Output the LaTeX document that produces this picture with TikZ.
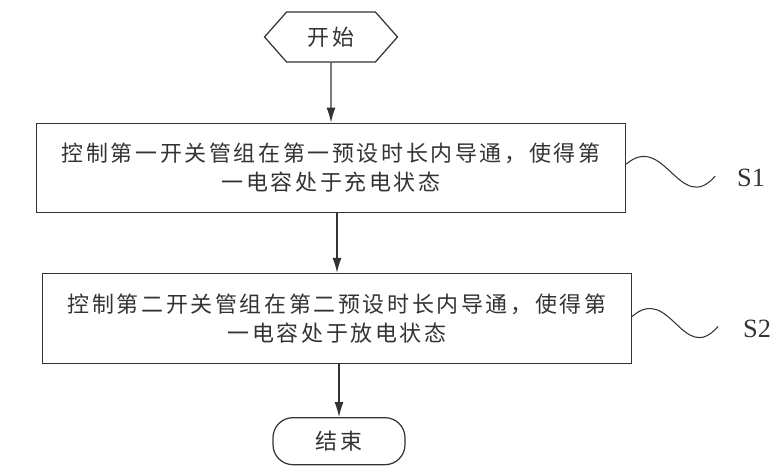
\documentclass[tikz,border=0pt]{standalone}
\usepackage{fontspec}
\setmainfont{Liberation Serif}
\newfontfamily\cjk[LetterSpace=12]{Noto Sans CJK SC}
\usetikzlibrary{positioning,arrows.meta,shapes.symbols}

\begin{document}
\begin{tikzpicture}[node distance={1.2cm}, line width=0.7pt, color=black!80,
        >={Latex[length=3mm,width=1.8mm]},
        font=\cjk\fontsize{12.5pt}{16.5pt}\selectfont,
        startbox/.style = {draw, signal, signal to=west and east, signal pointer angle=97, minimum width=2.66cm, minimum height=1cm},
        stepbox/.style = {draw, align=center, minimum width=11.78cm, minimum height=1.78cm},
        stopbox/.style = {draw, rounded corners=0.4cm, minimum width=2.64cm, minimum height=0.94cm},
        wave/.style = {line width=0.6pt},
        slabel/.style = {font=\fontsize{15pt}{18pt}\selectfont}]
        \useasboundingbox (0,0) rectangle (15.56,-9.48);
        \node[startbox] (start) at (6.62,-0.74) {开始};
        \node[stepbox] (s1) [below=of start] {控制第一开关管组在第一预设时长内导通，使得第\\一电容处于充电状态};
        \node[stepbox, minimum height=1.8cm] (s2) [below=of s1, xshift=0.12cm] {控制第二开关管组在第二预设时长内导通，使得第\\一电容处于放电状态};
        \node[stopbox] (stop) [below=1.06cm of s2, xshift=0.04cm] {结束};
        \draw[->] (start) -- (s1);
        \draw[->] (s1.south -| s2) -- (s2);
        \draw[->] (s2.south -| stop) -- (stop);
        % step labels
        \coordinate (w1) at ([xshift=1.78cm, yshift=-0.17cm]s1.east);
        \coordinate (w2) at ([xshift=1.72cm, yshift=-0.16cm]s2.east);
        \node[slabel] (l1) at ([xshift=2.5cm, yshift=-0.21cm]s1.east) {S1};
        \node[slabel] (l2) at ([xshift=2.5cm, yshift=-0.2cm]s2.east) {S2};
        \draw[wave] ([yshift=0.07cm]s1.east) .. controls +(0.76,0.66) and +(-0.7,-0.8) .. (w1);
        \draw[wave] ([yshift=0.04cm]s2.east) .. controls +(0.76,0.66) and +(-0.7,-0.8) .. (w2);
    \end{tikzpicture}
\end{document}
